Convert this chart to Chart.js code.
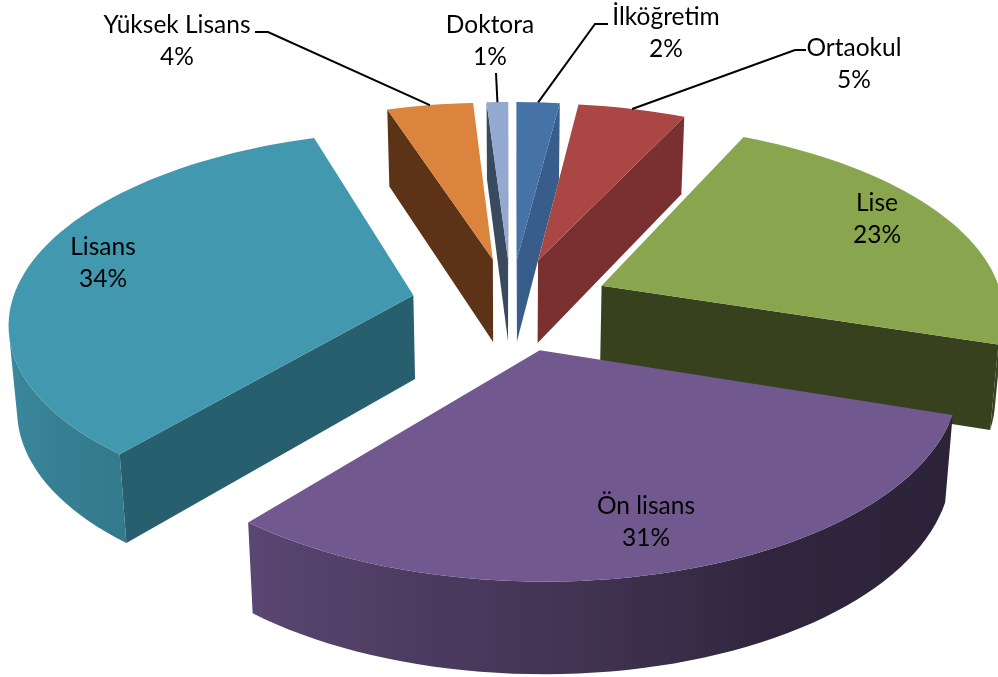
<!DOCTYPE html>
<html><head><meta charset="utf-8">
<style>html,body{margin:0;padding:0;background:#fff;overflow:hidden}canvas{display:block}</style>
<script src="https://cdn.jsdelivr.net/npm/chart.js@4"></script>
</head><body><canvas id="c" width="998" height="677"></canvas>
<script>
const categories = ["İlköğretim","Ortaokul","Lise","Ön lisans","Lisans","Yüksek Lisans","Doktora"];
const percentages = [2,5,23,31,34,4,1];
const topColors = ["#4572A7","#AA4643","#89A54E","#71588F","#4198AF","#DB843D","#93A9CF"];
const wallColors = ["#385D8A","#7A3030","#37411E","#5C4770","#285F6E","#5C3317","#3A4A5E"];

// Look of the 3D pie (all marks come from the library's arc elements)
const PIE = {radius:402, explode:100, tilt:188/402, persp:0.13, depth:84, depthPersp:0.075, converge:0.017};
// Centre of the pie is set by the chart area padding.
const labelBoxes = [
  {x:666,y:17,elbow:[[608,24],[595,24]]},
  {x:854,y:48,elbow:[[806,50],[795,50]]},
  {x:877,y:203},
  {x:646,y:506},
  {x:103,y:247},
  {x:177,y:25,elbow:[[255,32],[268,32]]},
  {x:490,y:25,elbow:[[496,73]]}
];

function project(el, a, r, offs, mid){
  const X = offs*Math.cos(mid) + r*Math.cos(a);
  const Y = offs*Math.sin(mid) + r*Math.sin(a);
  const v = Y/PIE.radius, w = 1 - PIE.persp*v;
  return {x: el.x + X/w, y: el.y + PIE.tilt*Y/w, v};
}
function lower(el, p){
  const d = PIE.depth/(1 - PIE.depthPersp*p.v);
  return {x: p.x + (el.x - p.x)*PIE.converge, y: p.y + d};
}
// wall brightness as a function of the direction the rim faces
function shade(hex, deg){
  const stops = [[100,.39],[150,.42],[180,.60],[219.6,.80],[260,.92],[300,.98]];
  let f = stops[0][1];
  for(let i=0;i<stops.length-1;i++){
    const [a,fa]=stops[i],[b,fb]=stops[i+1];
    if(deg>=a&&deg<=b) f=fa+(fb-fa)*(deg-a)/(b-a);
    else if(deg>b) f=fb;
  }
  const n=parseInt(hex.slice(1),16);
  return `rgb(${Math.round((n>>16)*f)},${Math.round(((n>>8)&255)*f)},${Math.round((n&255)*f)})`;
}
function side(p,q,t){return (q.x-p.x)*(t.y-p.y)-(q.y-p.y)*(t.x-p.x);}
function poly(ctx,pts,fill){
  ctx.beginPath();pts.forEach((p,i)=>i?ctx.lineTo(p.x,p.y):ctx.moveTo(p.x,p.y));ctx.closePath();
  ctx.fillStyle=fill;ctx.fill();
}

class Arc3D extends Chart.ArcElement {
  draw(ctx){
    const {startAngle:s,endAngle:e,outerRadius:r} = this.getProps(['startAngle','endAngle','outerRadius']);
    const o = this.options, mid=(s+e)/2, offs=o.offset;
    const apex = project(this,mid,0,offs,mid);
    const n = Math.max(2,Math.ceil((e-s)/(Math.PI/90)));
    const rim=[];
    for(let i=0;i<=n;i++) rim.push(project(this,s+(e-s)*i/n,r,offs,mid));
    const inner = rim[Math.floor(n/2)];
    const centre = {x:(apex.x+inner.x)/2,y:(apex.y+inner.y)/2};
    ctx.save();
    const radial=(p)=>{
      const b=lower(this,p);
      if(side(apex,p,b)*side(apex,p,centre)<0)
        poly(ctx,[apex,p,lower(this,p),lower(this,apex)],o.borderColor);
    };
    radial(rim[0]);radial(rim[n]);
    // outer curved wall: one path with a gradient sampled along the rim
    const shown=[],shades=[];
    for(let i=0;i<n;i++){
      const p=rim[i],q=rim[i+1],b=lower(this,p);
      if(side(p,q,b)*side(p,q,apex)<0){
        if(!shown.length) shown.push(p);
        shown.push(q);
        const aMid=s+(e-s)*(i+.5)/n;
        shades.push(shade(o.backgroundColor,((aMid*180/Math.PI+90)%360+360)%360));
      }
    }
    if(shown.length>1){
      const xs=shown.map(p=>p.x),x0=Math.min(...xs),x1=Math.max(...xs);
      const g=ctx.createLinearGradient(x0,0,x1,0);
      shades.forEach((c,i)=>{
        const x=(shown[i].x+shown[i+1].x)/2;
        g.addColorStop(Math.min(1,Math.max(0,(x-x0)/((x1-x0)||1))),c);
      });
      poly(ctx,[...shown,...shown.slice().reverse().map(p=>lower(this,p))],g);
    }
    poly(ctx,[apex,...rim],o.backgroundColor);
    ctx.restore();
  }
}
Arc3D.id='arc3d';
class Pie3DController extends Chart.DoughnutController {}
Pie3DController.id='pie3d';
Pie3DController.defaults={...Chart.DoughnutController.defaults,dataElementType:'arc3d'};
Pie3DController.overrides=Chart.DoughnutController.overrides;
Chart.register(Arc3D,Pie3DController);

const labelPlugin={
  id:'pieLabels',
  afterDatasetsDraw(chart){
    const ctx=chart.ctx, meta=chart.getDatasetMeta(0);
    ctx.save();
    ctx.strokeStyle='#000';ctx.lineWidth=2;
    labelBoxes.forEach((b,i)=>{
      if(!b.elbow) return;
      const el=meta.data[i],mid=(el.startAngle+el.endAngle)/2;
      const end=project(el,mid,el.outerRadius,el.options.offset,mid);
      ctx.beginPath();
      b.elbow.forEach((p,j)=>j?ctx.lineTo(p[0],p[1]):ctx.moveTo(p[0],p[1]));
      ctx.lineTo(end.x,end.y);ctx.stroke();
    });
    ctx.fillStyle='#000';ctx.textAlign='center';ctx.textBaseline='middle';
    ctx.font='24.5px Lato';
    labelBoxes.forEach((b,i)=>{
      ctx.fillText(categories[i],b.x,b.y);
      ctx.fillText(percentages[i]+'%',b.x,b.y+32.5);
    });
    ctx.restore();
  }
};

new Chart(document.getElementById('c'),{
  type:'pie3d',
  data:{labels:categories,datasets:[{
    data:percentages,
    backgroundColor:topColors,
    borderColor:wallColors,
    borderWidth:0,
    offset:PIE.explode
  }]},
  options:{
    responsive:false,animation:false,
    radius:PIE.radius,cutout:0,
    layout:{padding:{left:24,bottom:69}},
    plugins:{legend:{display:false},tooltip:{enabled:false}}
  },
  plugins:[labelPlugin]
});
</script></body></html>
